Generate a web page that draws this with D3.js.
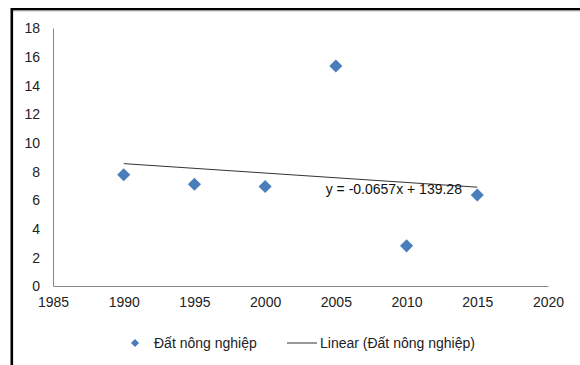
<!DOCTYPE html>
<html><head><meta charset="utf-8">
<script src="https://cdn.jsdelivr.net/npm/d3@7"></script>
<style>body{margin:0;background:#fff}svg{display:block;font-family:"Liberation Sans",Arial,sans-serif}</style>
</head><body>
<svg id="c" width="580" height="365"></svg>
<script>
const years = [1990, 1995, 2000, 2005, 2010, 2015];
const values = [7.76, 7.1, 6.94, 15.35, 2.8, 6.35];
const xTicks = [1985, 1990, 1995, 2000, 2005, 2010, 2015, 2020];
const yTicks = [0, 2, 4, 6, 8, 10, 12, 14, 16, 18];
const slope = -0.0657, intercept = 139.28;
const seriesName = "Đất nông nghiệp";
const trendName = "Linear (Đất nông nghiệp)";
const eqLabel = "y = -0.0657x + 139.28";

const svg = d3.select("#c");
// frame
svg.append("rect").attr("x",11).attr("y",8).attr("width",569).attr("height",2.5).attr("fill","#000");
svg.append("line").attr("x1",13).attr("x2",580).attr("y1",11).attr("y2",11).attr("stroke","#bbb");
svg.append("rect").attr("x",10.5).attr("y",8).attr("width",2.6).attr("height",357).attr("fill","#000");

const x = d3.scaleLinear().domain([1985,2020]).range([53,548]);
const y = d3.scaleLinear().domain([0,18]).range([286,28]);

const ax = svg.append("g").attr("transform","translate(0,286)")
  .call(d3.axisBottom(x).tickValues(xTicks).tickSize(0).tickPadding(11).tickFormat(d3.format("d")));
const ay = svg.append("g").attr("transform","translate(53,0)")
  .call(d3.axisLeft(y).tickValues(yTicks).tickSize(0).tickPadding(13));
[ax,ay].forEach(g=>{
  g.select(".domain").attr("stroke","#888");
  g.selectAll("text").attr("font-size",14).attr("fill","#222").attr("font-family","Liberation Sans, Arial, sans-serif");
});
ay.selectAll("text").attr("dy","0.35em");

// trendline
svg.append("line")
  .attr("x1",x(years[0])).attr("y1",y(slope*years[0]+intercept))
  .attr("x2",x(years[years.length-1])).attr("y2",y(slope*years[years.length-1]+intercept))
  .attr("stroke","#333").attr("stroke-width",1);

const diamond = d3.symbol().type(d3.symbolSquare).size(86);
svg.selectAll(".pt").data(years).join("path")
  .attr("d",diamond)
  .attr("transform",(d,i)=>`translate(${x(d)},${y(values[i])}) rotate(45)`)
  .attr("fill","#4a7ebb");

svg.append("text").attr("x",x(2009.1)).attr("y",193.5).attr("text-anchor","middle")
  .attr("font-size",14).attr("fill","#111").text(eqLabel);

// legend
const lg = svg.append("g");
lg.append("path").attr("d",d3.symbol().type(d3.symbolSquare).size(34)).attr("transform","translate(135,343) rotate(45)").attr("fill","#4a7ebb");
lg.append("text").attr("x",154).attr("y",348).attr("font-size",14).attr("fill","#222").text(seriesName);
lg.append("line").attr("x1",287).attr("x2",317).attr("y1",343).attr("y2",343).attr("stroke","#333");
lg.append("text").attr("x",320).attr("y",348).attr("font-size",14).attr("fill","#222").text(trendName);
</script>
</body></html>
